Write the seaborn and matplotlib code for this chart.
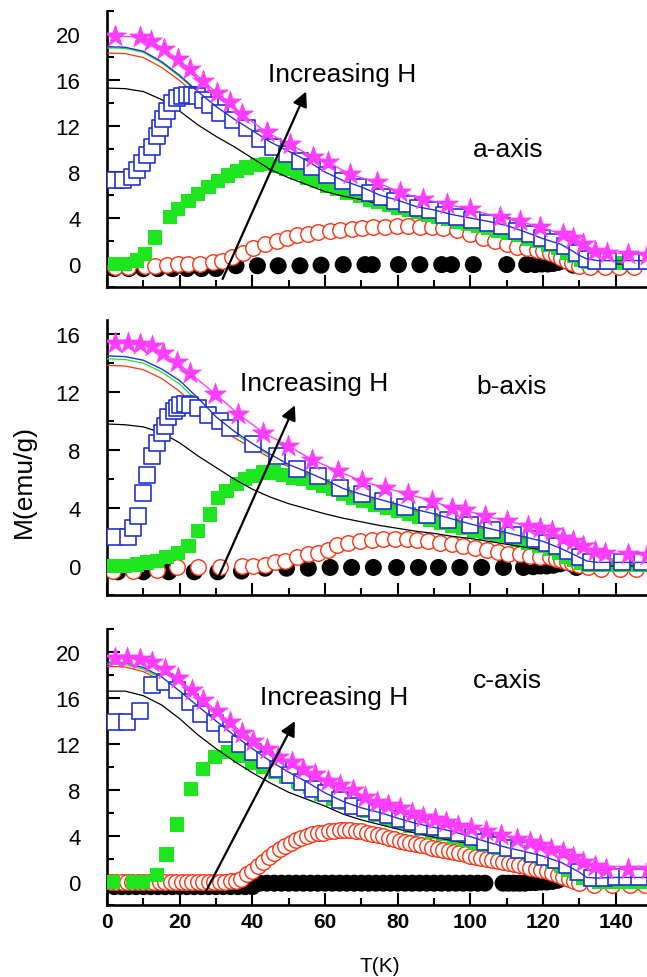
import matplotlib
matplotlib.use('Agg')
import matplotlib.pyplot as plt
from matplotlib.ticker import MultipleLocator
import seaborn as sns

# ---------------- data ----------------
# common temperature grid of the thin (continuous) curves
line_T = [0, 5, 10, 15, 20, 25, 30, 35, 40, 45, 50, 55, 60, 65, 70, 75, 80, 85, 90, 95,
          100, 105, 110, 115, 120, 125, 128, 130, 132, 135, 140, 149]

# ---- a-axis ----
a_star_T = [2.2, 9.1, 12.1, 15.8, 19.4, 22.9, 26.5, 30.2, 33.8, 37.1, 43.9, 50.4, 56.8, 60.9,
            66.9, 74.2, 80.6, 87.0, 93.5, 99.9, 108.1, 113.6, 119.2, 125.6, 128.3, 131.1,
            134.3, 137.5, 143.5, 148.5]
a_star_M = [19.85, 19.7, 19.4, 18.7, 17.8, 16.95, 15.9, 14.9, 14.05, 13.05, 11.45, 10.4, 9.3, 8.85,
            7.8, 7.1, 6.25, 5.65, 5.2, 4.75, 4.05, 3.7, 3.2, 2.6, 2.25, 1.75, 1.15, 1.0, 0.9, 0.8]
a_sq_T = [2.2, 4.5, 6.8, 8.2, 9.5, 10.9, 12.3, 13.7, 14.6, 15.5, 16.4, 17.8, 19.2, 20.5, 21.9,
          23.3, 24.7, 26.5, 28.3, 31.1, 34.8, 38.4, 42.1, 45.8, 49.4, 53.1, 56.3, 60.5, 65.0,
          69.2, 72.4, 75.6, 79.3, 82.5, 85.7, 88.9, 92.6, 96.3, 100.4, 104.9, 108.6, 112.7,
          116.4, 119.6, 122.8, 126.0, 129.2, 132.0, 134.7, 137.9, 144.3, 148.5]
a_sq_M = [7.3, 7.3, 7.6, 8.2, 8.8, 9.5, 10.2, 11.1, 11.8, 12.6, 13.3, 14.0, 14.4, 14.6, 14.7,
          14.7, 14.6, 14.3, 13.8, 13.1, 12.5, 11.8, 10.9, 10.2, 9.6, 9.0, 8.4, 7.7, 7.2,
          6.7, 6.2, 5.8, 5.5, 5.2, 4.9, 4.7, 4.3, 4.1, 3.8, 3.6, 3.3, 2.9,
          2.6, 2.3, 1.9, 1.6, 1.0, 0.4, 0.3, 0.3, 0.3, 0.3]
a_gsq_T = [2.2, 5.0, 8.2, 10.5, 13.2, 17.3, 19.6, 22.4, 25.1, 27.9, 30.6, 33.4, 35.7, 38.4,
           41.2, 43.9, 46.7, 49.4, 52.2, 55.0, 57.7, 60.5, 63.2, 66.0, 69.6, 72.4, 74.7, 77.5,
           80.2, 83.0, 85.7, 88.5, 91.2, 94.0, 96.7, 99.5, 102.2, 105.0, 107.7, 110.5, 113.2,
           116.0, 118.7, 121.5, 124.2, 126.5, 128.5, 130.5, 132.5, 135.0, 138.0, 141.5, 145.0, 148.5]
a_gsq_M = [0.0, 0.0, 0.3, 0.9, 2.3, 4.1, 4.8, 5.5, 6.1, 6.7, 7.2, 7.7, 8.1, 8.4,
           8.6, 8.7, 8.55, 8.3, 7.9, 7.5, 7.2, 6.8, 6.5, 6.2, 5.9, 5.6, 5.4, 5.1,
           4.9, 4.7, 4.5, 4.3, 4.1, 3.9, 3.7, 3.5, 3.3, 3.1, 2.9, 2.7, 2.5,
           2.2, 2.0, 1.7, 1.4, 1.0, 0.7, 0.4, 0.2, 0.1, 0.1, 0.1, 0.1, 0.1]
a_rc_T = [2.2, 5.9, 10.5, 13.2, 16.4, 19.6, 22.4, 25.6, 29.3, 31.6, 34.3, 37.5, 40.3, 43.5,
          46.7, 49.4, 52.2, 55.4, 58.1, 61.3, 64.1, 67.3, 70.1, 73.3, 76.5, 79.7, 82.9, 86.1,
          89.4, 92.5, 96.2, 99.9, 103.6, 106.8, 110.0, 112.7, 115.5, 118.2, 120.0, 121.9,
          123.5, 125.0, 126.5, 128.0, 130.0, 133.0, 137.0, 141.0, 145.0]
a_rc_M = [-0.3, -0.3, -0.15, -0.15, -0.05, 0.0, 0.0, 0.0, 0.15, 0.3, 0.6, 1.0, 1.4, 1.7,
          2.0, 2.3, 2.5, 2.6, 2.75, 2.85, 2.95, 3.05, 3.15, 3.2, 3.25, 3.3, 3.3, 3.25,
          3.2, 3.1, 2.95, 2.6, 2.3, 2.0, 1.7, 1.5, 1.4, 1.25, 1.1, 0.95,
          0.75, 0.5, 0.3, 0.05, -0.2, -0.3, -0.3, -0.3, -0.3]
a_bc_T = [2.0, 6.0, 10.0, 14.0, 18.0, 22.0, 26.0, 30.0, 35.5, 41.4, 47.1, 53.1, 58.9, 65.0,
          71.0, 73.0, 80.2, 86.1, 92.1, 94.8, 100.8, 110.0, 115.5, 117.8, 119.6, 121.3,
          122.8, 124.2, 125.6, 127.0, 128.3]
a_bc_M = [-0.4, -0.4, -0.4, -0.4, -0.4, -0.4, -0.4, -0.4, -0.15, -0.15, -0.15, -0.15, -0.1, -0.05,
          -0.05, -0.05, -0.05, -0.05, -0.05, -0.05, -0.05, -0.05, -0.05, -0.05, 0.0, 0.0,
          0.05, 0.15, 0.3, 0.2, -0.1]
a_blue_M = [18.9, 18.85, 18.5, 17.6, 16.4, 15.0, 13.7, 12.6, 11.6, 10.6, 9.8, 9.0, 8.0, 7.25, 6.7,
            6.0, 5.55, 5.0, 4.7, 4.3, 4.0, 3.7, 3.35, 2.8, 2.2, 1.7, 1.15, 0.75, 0.45, 0.3, 0.3, 0.3]
a_green_M = [18.8, 18.75, 18.4, 17.5, 16.3, 14.9, 13.6, 12.5, 11.5, 10.5, 9.7, 8.9, 7.95, 7.2, 6.65,
             5.95, 5.5, 4.95, 4.65, 4.25, 3.95, 3.65, 3.3, 2.75, 2.15, 1.65, 1.1, 0.7, 0.4, 0.25, 0.25, 0.25]
a_red_M = [18.35, 18.3, 17.95, 17.1, 15.95, 14.6, 13.35, 12.3, 11.3, 10.35, 9.55, 8.8, 7.85, 7.1, 6.55,
           5.9, 5.45, 4.9, 4.6, 4.2, 3.9, 3.6, 3.25, 2.7, 2.1, 1.6, 1.05, 0.65, 0.35, 0.2, 0.2, 0.2]
a_black_M = [15.3, 15.25, 15.0, 14.3, 13.3, 12.1, 11.1, 10.2, 9.2, 8.2, 7.5, 6.9, 6.3, 5.9, 5.6,
             5.2, 4.9, 4.5, 4.1, 3.75, 3.4, 3.05, 2.7, 2.3, 1.9, 1.4, 0.9, 0.5, 0.2, 0.0, 0.0, 0.0]

# ---- b-axis ----
b_star_T = [2.2, 5.9, 9.1, 12.3, 15.5, 19.2, 22.8, 29.7, 36.1, 43.0, 49.9, 56.3, 63.7, 70.1,
            76.5, 82.9, 89.4, 94.8, 98.5, 104.0, 110.0, 115.9, 119.2, 122.4, 125.6, 128.3,
            131.1, 134.3, 137.0, 143.5, 148.5]
b_star_M = [15.4, 15.4, 15.3, 15.2, 14.7, 14.1, 13.3, 11.9, 10.5, 9.2, 8.3, 7.35, 6.55, 5.85,
            5.4, 4.95, 4.5, 4.0, 3.85, 3.45, 3.1, 2.75, 2.6, 2.4, 1.95, 1.7,
            1.4, 1.05, 0.9, 0.85, 0.75]
b_sq_T = [2.2, 5.9, 7.2, 8.6, 10.0, 10.9, 12.3, 13.7, 15.1, 16.0, 16.9, 18.3, 19.2, 20.1, 21.5,
          22.8, 25.1, 27.9, 31.1, 33.8, 40.3, 46.7, 52.2, 58.1, 64.1, 70.1, 76.0, 82.0, 88.0,
          93.9, 99.9, 105.9, 111.8, 117.8, 121.0, 123.7, 126.9, 130.1, 133.3, 136.1, 141.6, 147.1]
b_sq_M = [2.0, 2.0, 2.65, 3.45, 5.05, 6.3, 7.6, 8.5, 9.2, 9.65, 10.25, 10.7, 10.9, 11.1, 11.15,
          11.1, 10.9, 10.45, 10.0, 9.55, 8.4, 7.6, 6.7, 6.2, 5.4, 4.95, 4.5, 4.05, 3.55,
          3.2, 2.85, 2.5, 2.15, 1.85, 1.6, 1.4, 1.05, 0.6, 0.25, 0.25, 0.25, 0.25]
b_gsq_T = [1.7, 5.0, 8.2, 10.9, 13.7, 16.4, 19.6, 22.4, 25.1, 28.3, 30.6, 32.9, 35.7, 38.0,
           40.3, 43.0, 45.8, 48.5, 51.3, 54.0, 56.8, 59.5, 62.3, 65.0, 67.8, 70.5, 73.7, 77.0,
           80.0, 83.0, 86.0, 89.0, 92.0, 95.0, 98.0, 101.0, 104.0, 107.0, 110.0, 113.0, 116.0,
           119.0, 122.0, 124.5, 126.5, 128.5, 130.5, 132.5, 135.0, 138.0, 141.5, 145.0, 148.5]
b_gsq_M = [0.0, 0.0, 0.1, 0.25, 0.35, 0.6, 0.9, 1.4, 2.4, 3.55, 4.7, 5.2, 5.65, 6.0,
           6.2, 6.45, 6.45, 6.3, 6.1, 6.0, 5.75, 5.5, 5.3, 4.95, 4.7, 4.5, 4.25, 4.0,
           3.8, 3.6, 3.4, 3.2, 3.0, 2.8, 2.6, 2.45, 2.3, 2.15, 2.0, 1.8, 1.6,
           1.4, 1.15, 0.9, 0.65, 0.4, 0.2, 0.1, 0.05, 0.05, 0.05, 0.05, 0.05]
b_rc_T = [1.7, 7.2, 13.7, 19.2, 25.1, 31.1, 37.1, 40.3, 43.5, 46.2, 49.0, 52.2, 55.4, 58.1,
          60.8, 63.4, 66.4, 69.6, 72.8, 76.0, 79.3, 82.5, 85.2, 88.4, 91.6, 94.8, 98.0, 101.3,
          104.5, 107.7, 110.4, 113.6, 116.4, 119.2, 121.9, 123.5, 125.0, 126.5, 128.0, 130.0,
          132.5, 136.0, 141.2, 145.5]
b_rc_M = [-0.35, -0.35, -0.25, -0.1, -0.1, -0.1, 0.0, 0.0, 0.1, 0.25, 0.35, 0.6, 0.8, 0.9,
          1.1, 1.45, 1.6, 1.7, 1.8, 1.85, 1.85, 1.85, 1.8, 1.7, 1.6, 1.5, 1.35, 1.25,
          1.1, 1.0, 0.85, 0.8, 0.7, 0.65, 0.6, 0.5, 0.4, 0.3, 0.2, 0.05,
          -0.1, -0.2, -0.2, -0.2]
b_bc_T = [3.0, 10.0, 17.0, 24.0, 30.5, 37.0, 43.5, 49.4, 55.4, 61.4, 67.3, 73.3, 79.7, 85.7,
          91.2, 97.1, 103.1, 109.1, 114.6, 117.3, 119.2, 121.0, 122.8, 124.7, 126.5, 127.9, 129.2]
b_bc_M = [-0.4, -0.4, -0.4, -0.4, -0.4, -0.35, -0.15, -0.15, -0.15, -0.1, -0.1, -0.1, -0.1, -0.1,
          -0.1, -0.1, -0.1, -0.1, -0.1, -0.05, 0.0, 0.0, 0.05, 0.15, 0.3, 0.15, -0.1]
b_blue_M = [14.5, 14.45, 14.2, 13.6, 12.8, 11.6, 10.3, 9.3, 8.45, 7.7, 7.0, 6.5, 5.95, 5.35, 4.95,
            4.6, 4.25, 3.9, 3.6, 3.25, 2.9, 2.6, 2.3, 2.0, 1.7, 1.2, 0.85, 0.6, 0.35, 0.25, 0.25, 0.25]
b_green_M = [14.3, 14.25, 14.0, 13.4, 12.55, 11.35, 10.1, 9.15, 8.35, 7.6, 6.95, 6.45, 5.9, 5.3, 4.9,
             4.55, 4.2, 3.85, 3.55, 3.2, 2.85, 2.55, 2.25, 1.95, 1.65, 1.15, 0.8, 0.55, 0.3, 0.2, 0.2, 0.2]
b_red_M = [13.85, 13.8, 13.55, 12.95, 12.05, 10.9, 9.75, 8.85, 8.15, 7.45, 6.85, 6.35, 5.8, 5.25, 4.85,
           4.5, 4.15, 3.8, 3.5, 3.15, 2.8, 2.5, 2.2, 1.9, 1.6, 1.1, 0.75, 0.5, 0.25, 0.15, 0.15, 0.15]
b_black_M = [9.8, 9.75, 9.6, 9.2, 8.5, 7.6, 6.8, 6.0, 5.3, 4.75, 4.3, 3.95, 3.6, 3.3, 3.05,
             2.8, 2.6, 2.4, 2.25, 2.05, 1.9, 1.7, 1.5, 1.3, 1.1, 0.8, 0.5, 0.25, 0.1, 0.0, 0.0, 0.0]

# ---- c-axis ----
c_star_T = [2.2, 5.4, 9.1, 12.3, 15.9, 19.6, 23.3, 26.5, 30.2, 33.8, 37.1, 40.3, 43.9, 47.1,
            50.8, 53.9, 57.2, 60.7, 64.1, 67.8, 71.0, 74.2, 77.4, 80.6, 83.8, 87.0, 90.2, 93.4,
            96.6, 100.3, 104.4, 108.5, 112.7, 116.3, 119.1, 122.3, 125.5, 128.2, 131.0, 134.2,
            137.4, 143.4, 148.9]
c_star_M = [19.5, 19.5, 19.4, 19.1, 18.5, 17.7, 16.7, 15.8, 14.9, 13.9, 13.0, 12.3, 11.6, 10.9,
            10.4, 9.8, 9.4, 8.8, 8.4, 8.0, 7.4, 7.0, 6.7, 6.4, 6.0, 5.65, 5.45, 5.2,
            4.9, 4.7, 4.4, 4.1, 3.75, 3.5, 3.2, 2.9, 2.6, 2.2, 1.75, 1.35,
            1.1, 1.1, 1.1]
c_sq_T = [2.2, 5.4, 9.1, 12.3, 15.9, 19.2, 22.8, 26.0, 29.7, 32.9, 36.6, 40.3, 43.5, 47.1,
          50.4, 53.6, 56.8, 60.3, 64.1, 67.8, 71.0, 74.2, 77.4, 80.6, 83.8, 87.0, 90.2, 93.4,
          97.0, 100.8, 103.9, 107.1, 110.3, 113.5, 117.2, 120.4, 123.6, 126.7, 129.9, 133.6,
          136.8, 140.0, 143.2, 146.4]
c_sq_M = [13.9, 13.9, 14.9, 17.1, 17.4, 16.7, 15.65, 14.6, 13.8, 12.9, 12.0, 11.3, 10.6, 9.85,
          9.3, 8.7, 8.1, 7.7, 7.1, 6.65, 6.4, 6.1, 5.8, 5.5, 5.2, 4.9, 4.75, 4.5,
          4.3, 3.9, 3.5, 3.2, 3.0, 2.75, 2.45, 2.2, 1.9, 1.45, 0.9, 0.35,
          0.35, 0.4, 0.4, 0.4]
c_gsq_T = [1.7, 7.2, 10.0, 13.7, 16.4, 19.3, 23.1, 26.5, 29.7, 33.4, 36.6, 39.8, 43.0, 46.2,
           49.4, 52.6, 55.8, 59.0, 62.3, 65.5, 68.5, 71.5, 74.5, 77.5, 80.5, 83.5, 86.5, 89.5,
           92.5, 95.5, 98.5, 101.5, 104.5, 107.5, 110.5, 113.5, 116.5, 119.5, 122.5, 125.0,
           127.0, 129.0, 131.0, 133.0, 135.5, 138.5, 142.0, 145.5, 148.5]
c_gsq_M = [0.0, 0.0, 0.0, 0.6, 2.4, 5.0, 8.1, 9.85, 10.9, 11.3, 11.0, 10.4, 10.0, 9.55,
           9.1, 8.7, 8.25, 7.7, 7.25, 6.85, 6.5, 6.15, 5.8, 5.5, 5.2, 4.9, 4.65, 4.4,
           4.15, 3.9, 3.65, 3.4, 3.2, 3.0, 2.8, 2.6, 2.35, 2.1, 1.75, 1.4,
           1.05, 0.7, 0.35, 0.15, 0.05, 0.05, 0.05, 0.05, 0.05]
c_rc_T = [1.0, 2.5, 4.0, 5.5, 7.0, 8.5, 10.0, 11.5, 13.0, 14.5, 16.0, 17.5, 19.0, 20.5, 22.0,
          23.5, 25.0, 26.5, 28.0, 29.5, 31.0, 32.5, 34.0, 35.5, 37.0, 38.5, 40.0, 41.5, 43.0,
          44.5, 46.0, 47.5, 49.0, 50.5, 52.0, 53.5, 55.0, 56.5, 58.0, 59.5, 61.0, 62.5, 64.0,
          65.5, 67.0, 68.5, 70.0, 71.5, 73.0, 74.5, 76.0, 77.5, 79.0, 80.5, 82.0, 83.5, 85.0,
          86.5, 88.0, 89.5, 91.0, 92.5, 94.0, 95.5, 97.0, 98.5, 100.0, 101.5, 103.0, 104.5,
          106.0, 107.5, 109.0, 110.5, 112.0, 113.5, 115.0, 116.5, 118.0, 119.5, 121.0, 122.5,
          124.0, 125.5, 127.0, 128.5, 130.0, 134.0, 139.0, 144.0, 148.0]
c_rc_M = [0.0, 0.0, 0.0, 0.0, 0.0, 0.0, 0.0, 0.0, 0.0, 0.0, 0.0, 0.0, 0.0, 0.0, 0.0,
          0.0, 0.0, 0.0, 0.0, 0.0, 0.0, 0.0, 0.05, 0.1, 0.3, 0.7, 1.0, 1.35, 1.75,
          2.15, 2.5, 2.85, 3.1, 3.4, 3.65, 3.85, 4.0, 4.15, 4.25, 4.3, 4.4, 4.45, 4.5,
          4.5, 4.5, 4.45, 4.4, 4.3, 4.2, 4.1, 4.0, 3.85, 3.75, 3.6, 3.5, 3.4, 3.3,
          3.2, 3.1, 3.0, 2.9, 2.8, 2.7, 2.6, 2.5, 2.4, 2.3, 2.2, 2.1, 2.0,
          1.95, 1.85, 1.75, 1.65, 1.55, 1.45, 1.35, 1.25, 1.15, 1.05, 0.95, 0.8,
          0.65, 0.45, 0.25, 0.05, -0.1, -0.25, -0.25, -0.25, -0.25]
c_bc_T = [2, 4, 6, 8, 10, 12, 14, 16, 18, 20, 22, 24, 26, 28, 30, 32, 34, 36, 38, 40,
          42, 44, 46, 48, 50, 52, 54, 56, 58, 60, 62, 64, 66, 68, 70, 72, 74, 76, 78, 80,
          82, 84, 86, 88, 90, 92, 94, 96, 98, 100, 102, 104,
          109.0, 110.5, 112.0, 113.5, 115.0, 116.5, 118.0, 119.5, 121.0, 122.5, 124.0, 125.5,
          127.0, 128.5]
c_bc_M = [-0.4, -0.4, -0.4, -0.4, -0.4, -0.4, -0.4, -0.4, -0.4, -0.4, -0.4, -0.4, -0.4, -0.4,
          -0.4, -0.4, -0.4, -0.4, -0.4, -0.4,
          -0.1, -0.1, -0.1, -0.1, -0.1, -0.1, -0.1, -0.1, -0.1, -0.1, -0.1, -0.1, -0.1, -0.1,
          -0.1, -0.1, -0.1, -0.1, -0.1, -0.1, -0.1, -0.1, -0.1, -0.1, -0.1, -0.1, -0.1, -0.1,
          -0.1, -0.1, -0.1, -0.1,
          -0.1, -0.1, -0.1, -0.1, -0.1, -0.05, -0.05, 0.0, 0.0, 0.05, 0.15, 0.35, 0.45, 0.15]
c_blue_M = [19.1, 19.05, 18.65, 17.85, 16.6, 15.3, 14.0, 12.75, 11.6, 10.5, 9.55, 8.7, 7.75, 7.0, 6.45,
            6.05, 5.55, 5.1, 4.75, 4.4, 3.95, 3.45, 3.0, 2.65, 2.25, 1.7, 1.2, 0.85, 0.4, 0.35, 0.4, 0.4]
c_green_M = [18.95, 18.9, 18.5, 17.7, 16.45, 15.15, 13.85, 12.6, 11.45, 10.4, 9.45, 8.6, 7.65, 6.9, 6.35,
             5.95, 5.45, 5.0, 4.65, 4.3, 3.85, 3.35, 2.9, 2.55, 2.15, 1.6, 1.1, 0.75, 0.3, 0.25, 0.3, 0.3]
c_red_M = [18.75, 18.7, 18.3, 17.5, 16.25, 14.95, 13.65, 12.45, 11.3, 10.25, 9.3, 8.45, 7.55, 6.8, 6.25,
           5.85, 5.35, 4.9, 4.55, 4.2, 3.75, 3.25, 2.8, 2.45, 2.05, 1.5, 1.0, 0.65, 0.2, 0.15, 0.2, 0.2]
c_black_M = [16.6, 16.6, 16.2, 15.4, 14.2, 12.8, 11.6, 10.5, 9.5, 8.6, 7.8, 7.2, 6.6, 5.9, 5.4,
             5.0, 4.6, 4.25, 3.9, 3.6, 3.3, 2.95, 2.6, 2.25, 1.9, 1.4, 0.9, 0.5, 0.2, 0.0, 0.0, 0.0]

panel_names = ['a-axis', 'b-axis', 'c-axis']

MAGENTA = '#ff3cff'
BLUE = '#2233d6'
GREEN = '#1ee61e'
RED = '#ff3212'

sns.set_theme(style='white')
plt.rcParams['font.family'] = ['Liberation Sans', 'DejaVu Sans']
plt.rcParams['text.color'] = 'black'
plt.rcParams['xtick.color'] = 'black'
plt.rcParams['ytick.color'] = 'black'
plt.rcParams['axes.labelcolor'] = 'black'

fig = plt.figure(figsize=(6.47, 9.78), dpi=100)
ax_a = fig.add_axes([0.1654, 0.7055, 0.8346, 0.2822])
ax_b = fig.add_axes([0.1654, 0.3906, 0.8346, 0.2815])
ax_c = fig.add_axes([0.1654, 0.0736, 0.8346, 0.2822])


def draw_panel(ax, bc, rc, gsq, sq, star, lines):
    # markers
    sns.scatterplot(x=bc[0], y=bc[1], ax=ax, marker='o', s=150, color='black',
                    edgecolor='none', zorder=2, legend=False)
    sns.scatterplot(x=rc[0], y=rc[1], ax=ax, marker='o', s=125, color=RED,
                    facecolor='white', edgecolor=RED, linewidth=1.0, zorder=3, legend=False)
    sns.scatterplot(x=gsq[0], y=gsq[1], ax=ax, marker='s', s=105, color=GREEN,
                    edgecolor='none', zorder=4, legend=False)
    # thin curves
    blue_M, green_M, red_M, black_M = lines
    for vals, col in [(black_M, 'black'), (red_M, RED), (green_M, GREEN)]:
        sns.lineplot(x=line_T, y=vals, ax=ax, color=col, lw=0.9, estimator=None,
                     sort=False, zorder=5)
    sns.scatterplot(x=sq[0], y=sq[1], ax=ax, marker='s', s=120, color=BLUE,
                    facecolor='white', edgecolor=BLUE, linewidth=1.2, zorder=6, legend=False)
    sns.lineplot(x=line_T, y=blue_M, ax=ax, color=BLUE, lw=1.0, estimator=None,
                 sort=False, zorder=7)
    sns.lineplot(x=star[0], y=star[1], ax=ax, color=MAGENTA, lw=1.0, estimator=None,
                 sort=False, zorder=8)
    sns.scatterplot(x=star[0], y=star[1], ax=ax, marker='*', s=270, color=MAGENTA,
                    edgecolor=MAGENTA, linewidth=0.5, zorder=9, legend=False)


draw_panel(ax_a, (a_bc_T, a_bc_M), (a_rc_T, a_rc_M), (a_gsq_T, a_gsq_M), (a_sq_T, a_sq_M),
           (a_star_T, a_star_M), (a_blue_M, a_green_M, a_red_M, a_black_M))
draw_panel(ax_b, (b_bc_T, b_bc_M), (b_rc_T, b_rc_M), (b_gsq_T, b_gsq_M), (b_sq_T, b_sq_M),
           (b_star_T, b_star_M), (b_blue_M, b_green_M, b_red_M, b_black_M))
draw_panel(ax_c, (c_bc_T, c_bc_M), (c_rc_T, c_rc_M), (c_gsq_T, c_gsq_M), (c_sq_T, c_sq_M),
           (c_star_T, c_star_M), (c_blue_M, c_green_M, c_red_M, c_black_M))

ylims = [(-2.0, 22.0), (-2.0, 17.0), (-2.0, 22.0)]
# arrow tail, arrow head, "Increasing H" position, axis-name position
arrows = [((31.8, -1.3), (54.8, 15.0), (44.3, 16.5), (100.7, 10.0)),
          ((30.6, -0.8), (51.7, 11.1), (36.6, 12.6), (101.7, 12.4)),
          ((27.4, -0.7), (51.7, 14.0), (42.1, 16.1), (100.6, 17.6))]

for ax, yl, (tail, head, txt, lab), name in zip([ax_a, ax_b, ax_c], ylims, arrows, panel_names):
    ax.set_xlim(0, 148.6)
    ax.set_ylim(*yl)
    ax.set_xlabel('')
    ax.set_ylabel('')
    ax.set_facecolor('white')
    for side in ['top', 'right']:
        ax.spines[side].set_visible(False)
    for side in ['left', 'bottom']:
        ax.spines[side].set_linewidth(1.9)
        ax.spines[side].set_color('black')
    ax.xaxis.set_major_locator(MultipleLocator(20))
    ax.xaxis.set_minor_locator(MultipleLocator(10))
    ax.yaxis.set_major_locator(MultipleLocator(4))
    ax.yaxis.set_minor_locator(MultipleLocator(2))
    ax.tick_params(axis='both', which='major', direction='in', length=9, width=1.5,
                   color='black', left=True, bottom=True)
    ax.tick_params(axis='both', which='minor', direction='in', length=5, width=1.5,
                   color='black', left=True, bottom=True)
    ax.tick_params(axis='y', which='major', labelsize=16, pad=19, labelcolor='black')
    ax.tick_params(axis='x', which='major', labelsize=15, pad=5, labelcolor='black')
    ax.annotate('', xy=head, xytext=tail,
                arrowprops=dict(arrowstyle='-|>', color='black', lw=1.6,
                                mutation_scale=22, shrinkA=0, shrinkB=0), zorder=10)
    ax.text(txt[0], txt[1], 'Increasing H', fontsize=19, ha='left', va='center', zorder=10)
    ax.text(lab[0], lab[1], name, fontsize=19, ha='left', va='center', zorder=10)

ax_a.tick_params(labelbottom=False)
ax_b.tick_params(labelbottom=False)
for lbl in ax_c.get_xticklabels():
    lbl.set_fontweight('bold')

fig.text(0.037, 0.508, 'M(emu/g)', rotation=90, fontsize=19, ha='center', va='center')
fig.text(0.587, 0.012, 'T(K)', fontsize=15, ha='center', va='center')

fig.savefig('out.png', dpi=100)
